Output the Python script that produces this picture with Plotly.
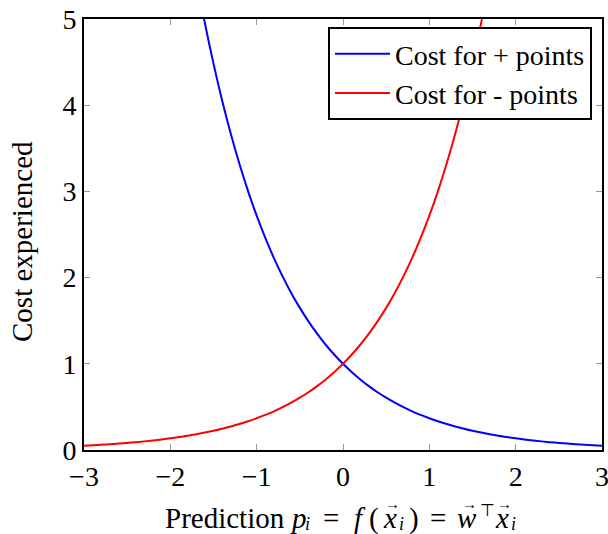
import plotly.graph_objects as go

x_vals = [-3.0, -2.9, -2.8, -2.7, -2.6, -2.5, -2.4, -2.3, -2.2, -2.1, -2.0,
          -1.9, -1.8, -1.7, -1.6, -1.5, -1.4, -1.3, -1.2, -1.1, -1.0,
          -0.9, -0.8, -0.7, -0.6, -0.5, -0.4, -0.3, -0.2, -0.1, 0.0,
          0.1, 0.2, 0.3, 0.4, 0.5, 0.6, 0.7, 0.8, 0.9, 1.0,
          1.1, 1.2, 1.3, 1.4, 1.5, 1.6, 1.7, 1.8, 1.9, 2.0,
          2.1, 2.2, 2.3, 2.4, 2.5, 2.6, 2.7, 2.8, 2.9, 3.0]

cost_neg = [0.050, 0.055, 0.061, 0.067, 0.074, 0.082, 0.091, 0.100, 0.111, 0.122, 0.135,
            0.150, 0.165, 0.183, 0.202, 0.223, 0.247, 0.273, 0.301, 0.333, 0.368,
            0.407, 0.449, 0.497, 0.549, 0.607, 0.670, 0.741, 0.819, 0.905, 1.000,
            1.105, 1.221, 1.350, 1.492, 1.649, 1.822, 2.014, 2.226, 2.460, 2.718,
            3.004, 3.320, 3.669, 4.055, 4.482, 4.953, 5.474, 6.050, 6.686, 7.389,
            8.166, 9.025, 9.974, 11.023, 12.182, 13.464, 14.880, 16.445, 18.174, 20.086]

cost_pos = [20.086, 18.174, 16.445, 14.880, 13.464, 12.182, 11.023, 9.974, 9.025, 8.166, 7.389,
            6.686, 6.050, 5.474, 4.953, 4.482, 4.055, 3.669, 3.320, 3.004, 2.718,
            2.460, 2.226, 2.014, 1.822, 1.649, 1.492, 1.350, 1.221, 1.105, 1.000,
            0.905, 0.819, 0.741, 0.670, 0.607, 0.549, 0.497, 0.449, 0.407, 0.368,
            0.333, 0.301, 0.273, 0.247, 0.223, 0.202, 0.183, 0.165, 0.150, 0.135,
            0.122, 0.111, 0.100, 0.091, 0.082, 0.074, 0.067, 0.061, 0.055, 0.050]

x_ticks = [-3, -2, -1, 0, 1, 2, 3]
x_tick_text = ["\u22123", "\u22122", "\u22121", "0", "1", "2", "3"]
y_ticks = [0, 1, 2, 3, 4, 5]

series_names = ["Cost for + points", "Cost for - points"]
y_title = "Cost experienced"

font_serif = "Liberation Serif"

# plot area in pixels (for placing label annotations)
L, R, T, B = 84, 602, 19, 450
def px(xp):
    return (xp - L) / (R - L)
def py(yp):
    return (B - yp) / (B - T)

fig = go.Figure()
fig.add_trace(go.Scatter(x=x_vals, y=cost_pos, mode="lines", name=series_names[0],
                         line=dict(color="#0000ff", width=2, shape="spline")))
fig.add_trace(go.Scatter(x=x_vals, y=cost_neg, mode="lines", name=series_names[1],
                         line=dict(color="#ff0000", width=2, shape="spline")))

axis_common = dict(showline=True, linecolor="black", linewidth=2, mirror="ticks",
                   ticks="inside", ticklen=6, tickwidth=1, tickcolor="#999999",
                   showgrid=False, zeroline=False, automargin=False,
                   ticklabeloverflow="allow",
                   tickfont=dict(family=font_serif, size=28, color="black"))

fig.update_xaxes(range=[-3, 3], tickvals=x_ticks, ticktext=x_tick_text, **axis_common)
fig.update_yaxes(range=[0, 5], tickvals=y_ticks, **axis_common)

def txt(text, xpix, ypix, size, anchor="left"):
    fig.add_annotation(text=text, xref="paper", yref="paper", x=px(xpix), y=py(ypix),
                       xanchor=anchor, yanchor="middle", showarrow=False,
                       borderpad=0,
                       font=dict(family=font_serif, size=size, color="black"))

# x-axis title: "Prediction p_i = f(x_i) = w^T x_i" with vector arrows
YM = 518
txt("Prediction", 164, YM, 29)
txt("<i>p</i>", 289, YM, 29)
txt("<i>i</i>", 304, YM + 6, 18)
txt("=", 331, YM, 29, "center")
txt("<i>f</i>", 353, YM, 29)
txt("(", 368, YM, 29)
txt("<i>x</i>", 382, YM, 29)
txt("<i>i</i>", 398, YM + 6, 18)
txt(")", 408, YM, 29)
txt("=", 438, YM, 29, "center")
txt("<i>w</i>", 456, YM, 29)
txt("\u22a4", 479, YM - 7, 17)
txt("<i>x</i>", 494, YM, 29)
txt("<i>i</i>", 510, YM + 6, 18)
for ax_px in [392, 469, 504]:
    txt("\u2192", ax_px, 504, 15, "center")

fig.add_annotation(text=y_title, xref="paper", yref="paper", x=px(22), y=py(242),
                   xanchor="center", yanchor="middle", showarrow=False, textangle=-90,
                   font=dict(family=font_serif, size=29, color="black"))

fig.update_layout(
    width=608, height=534,
    margin=dict(l=L, r=608 - R, t=T, b=534 - B),
    paper_bgcolor="white", plot_bgcolor="white",
    showlegend=True,
    legend=dict(x=px(592), y=py(27), xanchor="right", yanchor="top",
                bgcolor="white", bordercolor="black", borderwidth=2,
                itemwidth=55, tracegroupgap=0,
                font=dict(family=font_serif, size=28, color="black")),
)

fig.write_html("out.html", config={"displayModeBar": False},
               post_script="document.body.style.margin='0px';")
